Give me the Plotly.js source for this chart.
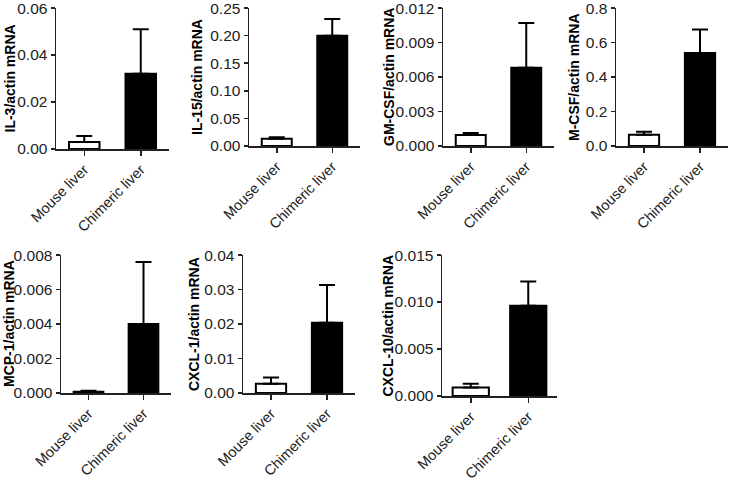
<!DOCTYPE html>
<html>
<head>
<meta charset="utf-8">
<script src="https://cdn.plot.ly/plotly-3.0.1.min.js"></script>
<style>html,body{margin:0;padding:0;background:#fff;}#chart{width:729px;height:482px;}</style>
</head>
<body>
<div id="chart"></div>
<script>
// ---- data ----
const categories = ['Mouse liver', 'Chimeric liver'];
const genes = ['IL-3', 'IL-15', 'GM-CSF', 'M-CSF', 'MCP-1', 'CXCL-1', 'CXCL-10'];
const mouseMean    = [0.0030, 0.013, 0.00095, 0.065, 0.00007, 0.0027, 0.0009];
const mouseErr     = [0.0025, 0.003, 0.00018, 0.018, 0.00006, 0.0018, 0.0004];
const chimericMean = [0.0320, 0.200, 0.0068,  0.540, 0.0040,  0.0204, 0.0096];
const chimericErr  = [0.0190, 0.030, 0.0039,  0.135, 0.0036,  0.0109, 0.0026];
const yMax   = [0.06, 0.25, 0.012, 0.8, 0.008, 0.04, 0.015];
const yDtick = [0.02, 0.05, 0.003, 0.2, 0.002, 0.01, 0.005];
const yFormat = ['.2f', '.2f', '.3f', '.1f', '.3f', '.2f', '.3f'];

// ---- layout geometry (pixels) ----
const W = 729, H = 482;
const boxes = [
  {x0: 56,  x1: 169, yt: 8,   yb: 149, tx: 10,  bw: 0.54},
  {x0: 249, x1: 360, yt: 8,   yb: 146, tx: 197, bw: 0.54},
  {x0: 443, x1: 554, yt: 8,   yb: 146, tx: 389, bw: 0.54},
  {x0: 616, x1: 728, yt: 8,   yb: 146, tx: 574, bw: 0.54},
  {x0: 61,  x1: 171, yt: 255, yb: 393, tx: 9,   bw: 0.54},
  {x0: 243, x1: 355, yt: 255, yb: 393, tx: 194, bw: 0.54},
  {x0: 442, x1: 557, yt: 255, yb: 396, tx: 387, bw: 0.63}
];

const FONT = 'Liberation Sans, Arial, sans-serif';
const AX = '#222';
const TF = 15.5;
const XF = 14.5;
const traces = [];
const layout = {
  width: W, height: H,
  margin: {l: 0, r: 0, t: 0, b: 0, pad: 0},
  paper_bgcolor: '#fff', plot_bgcolor: '#fff',
  showlegend: false,
  font: {family: FONT, color: '#222', size: TF},
  annotations: []
};

genes.forEach((g, i) => {
  const b = boxes[i];
  const n = i === 0 ? '' : String(i + 1);
  traces.push({
    type: 'bar',
    x: categories,
    y: [mouseMean[i], chimericMean[i]],
    xaxis: 'x' + n, yaxis: 'y' + n,
    width: [b.bw, b.bw],
    marker: {color: ['#ffffff', '#000000'], line: {color: '#000', width: 2}},
    error_y: {type: 'data', symmetric: false, array: [mouseErr[i], chimericErr[i]],
              arrayminus: [0, 0], color: '#000', thickness: 2, width: 8},
    hoverinfo: 'skip', cliponaxis: false
  });
  layout['xaxis' + n] = {
    domain: [b.x0 / W, b.x1 / W], anchor: 'y' + n,
    type: 'category', range: [-0.5, 1.5],
    showline: true, linecolor: AX, linewidth: 1.5,
    ticks: 'outside', ticklen: 5, tickwidth: 1.5, tickcolor: AX,
    tickangle: -45, tickfont: {size: XF, family: FONT, color: '#222'},
    ticklabeloverflow: 'allow',
    showgrid: false, zeroline: false, fixedrange: true
  };
  layout['yaxis' + n] = {
    domain: [1 - b.yb / H, 1 - b.yt / H], anchor: 'x' + n,
    range: [0, yMax[i] * 1.0005], tick0: 0, dtick: yDtick[i], tickformat: yFormat[i],
    showline: true, linecolor: AX, linewidth: 1.5,
    ticks: 'outside', ticklen: 4, tickwidth: 1.5, tickcolor: AX,
    tickfont: {size: TF, family: FONT, color: '#222'},
    ticklabeloverflow: 'allow',
    showgrid: false, zeroline: false, fixedrange: true
  };
  layout.annotations.push({
    xref: 'paper', yref: 'paper',
    x: b.tx / W, y: 1 - ((b.yt + b.yb) / 2) / H,
    xanchor: 'center', yanchor: 'middle',
    text: '<b>' + g + '/actin mRNA</b>', textangle: -90,
    showarrow: false, font: {size: 14, family: FONT, color: '#000'}
  });
});

Plotly.newPlot('chart', traces, layout, {displayModeBar: false, staticPlot: true});
</script>
</body>
</html>
